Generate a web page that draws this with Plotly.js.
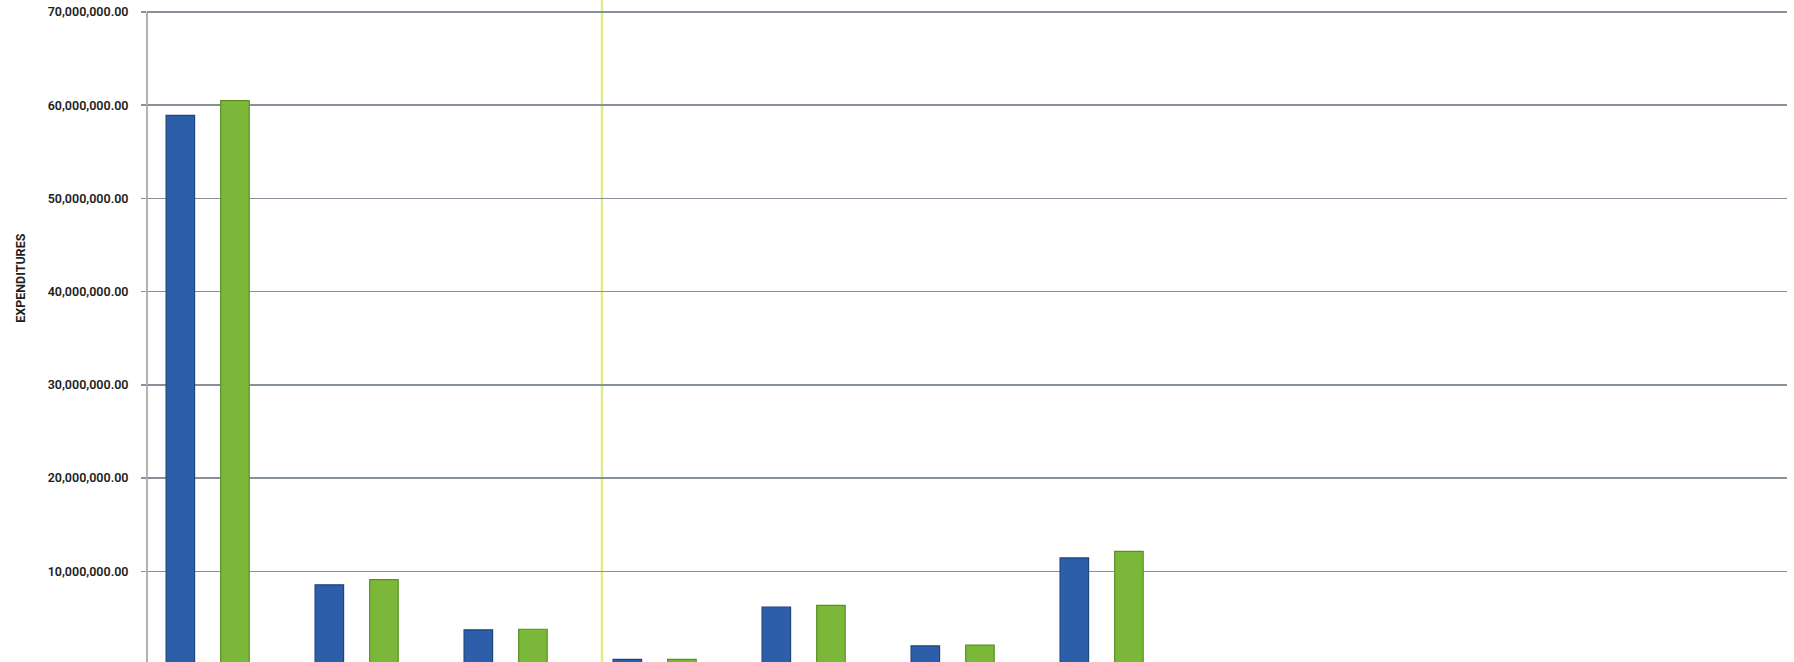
<!DOCTYPE html>
<html>
<head>
<meta charset="utf-8">
<script src="https://cdn.plot.ly/plotly-3.0.1.min.js"></script>
<style>html,body{margin:0;padding:0;background:#fff;}#chart{width:1794px;height:662px;}</style>
</head>
<body>
<div id="chart"></div>
<script>
// Categories (x-axis labels are cropped off in the reference)
const categories = ["Cat 1","Cat 2","Cat 3","Cat 4","Cat 5","Cat 6","Cat 7","Cat 8","Cat 9","Cat 10","Cat 11"];
// Series values (expenditures)
const seriesA = [58900000, 8550000, 3720000, 560000, 6150000, 2000000, 11430000, null, null, null, null];
const seriesB = [60500000, 9100000, 3780000, 550000, 6350000, 2080000, 12130000, null, null, null, null];
const yTickVals = [10000000, 20000000, 30000000, 40000000, 50000000, 60000000, 70000000];
const yTickText = ["10,000,000.00","20,000,000.00","30,000,000.00","40,000,000.00","50,000,000.00","60,000,000.00","70,000,000.00"];
const yTitle = "EXPENDITURES";

const traces = [
  {type:'bar', name:'Series A', x:categories, y:seriesA,
   marker:{color:'#2d5ea9', line:{color:'#1d457f', width:1.2}}},
  {type:'bar', name:'Series B', x:categories, y:seriesB,
   marker:{color:'#7bb83a', line:{color:'#5a8f22', width:1.2}}}
];

const layout = {
  width:1794, height:662,
  margin:{l:147, r:7, t:8, b:0, pad:0},
  paper_bgcolor:'#ffffff', plot_bgcolor:'#ffffff',
  showlegend:false,
  barmode:'group', bargap:0.267, bargroupgap:0.478,
  xaxis:{type:'category', range:[-0.407, 10.6], showticklabels:false, showgrid:false,
         zeroline:false, showline:false, ticks:''},
  yaxis:{range:[268000, 70429000], tickvals:yTickVals, ticktext:yTickText,
         showgrid:true, gridcolor:'#87919c', gridwidth:1.5,
         zeroline:false, showline:false, 
         ticks:'outside', ticklen:5, tickcolor:'#87919c', tickwidth:1.5,
         ticklabelstandoff:10,
         tickfont:{family:'Roboto, "Open Sans", sans-serif', size:12.5, color:'#1e1e1e', weight:600}},
  annotations:[{text:yTitle, xref:'paper', yref:'paper', x:-0.0772, y:0.588,
    xanchor:'center', yanchor:'middle', textangle:-90, showarrow:false,
    font:{family:'Roboto, "Open Sans", sans-serif', size:12.5, color:'#1e1e1e', weight:700}}],
  shapes:[
    {type:'line', xref:'paper', yref:'paper', x0:0.2774, x1:0.2774, y0:0, y1:1.02,
     line:{color:'#e9e98a', width:2.5}, layer:'below'},
    {type:'line', xref:'paper', yref:'y', x0:0, x1:0, y0:268000, y1:70000000,
     line:{color:'#9a9a9a', width:1.5}, layer:'above'}
  ]
};

Plotly.newPlot('chart', traces, layout, {displayModeBar:false, staticPlot:true});
</script>
</body>
</html>
